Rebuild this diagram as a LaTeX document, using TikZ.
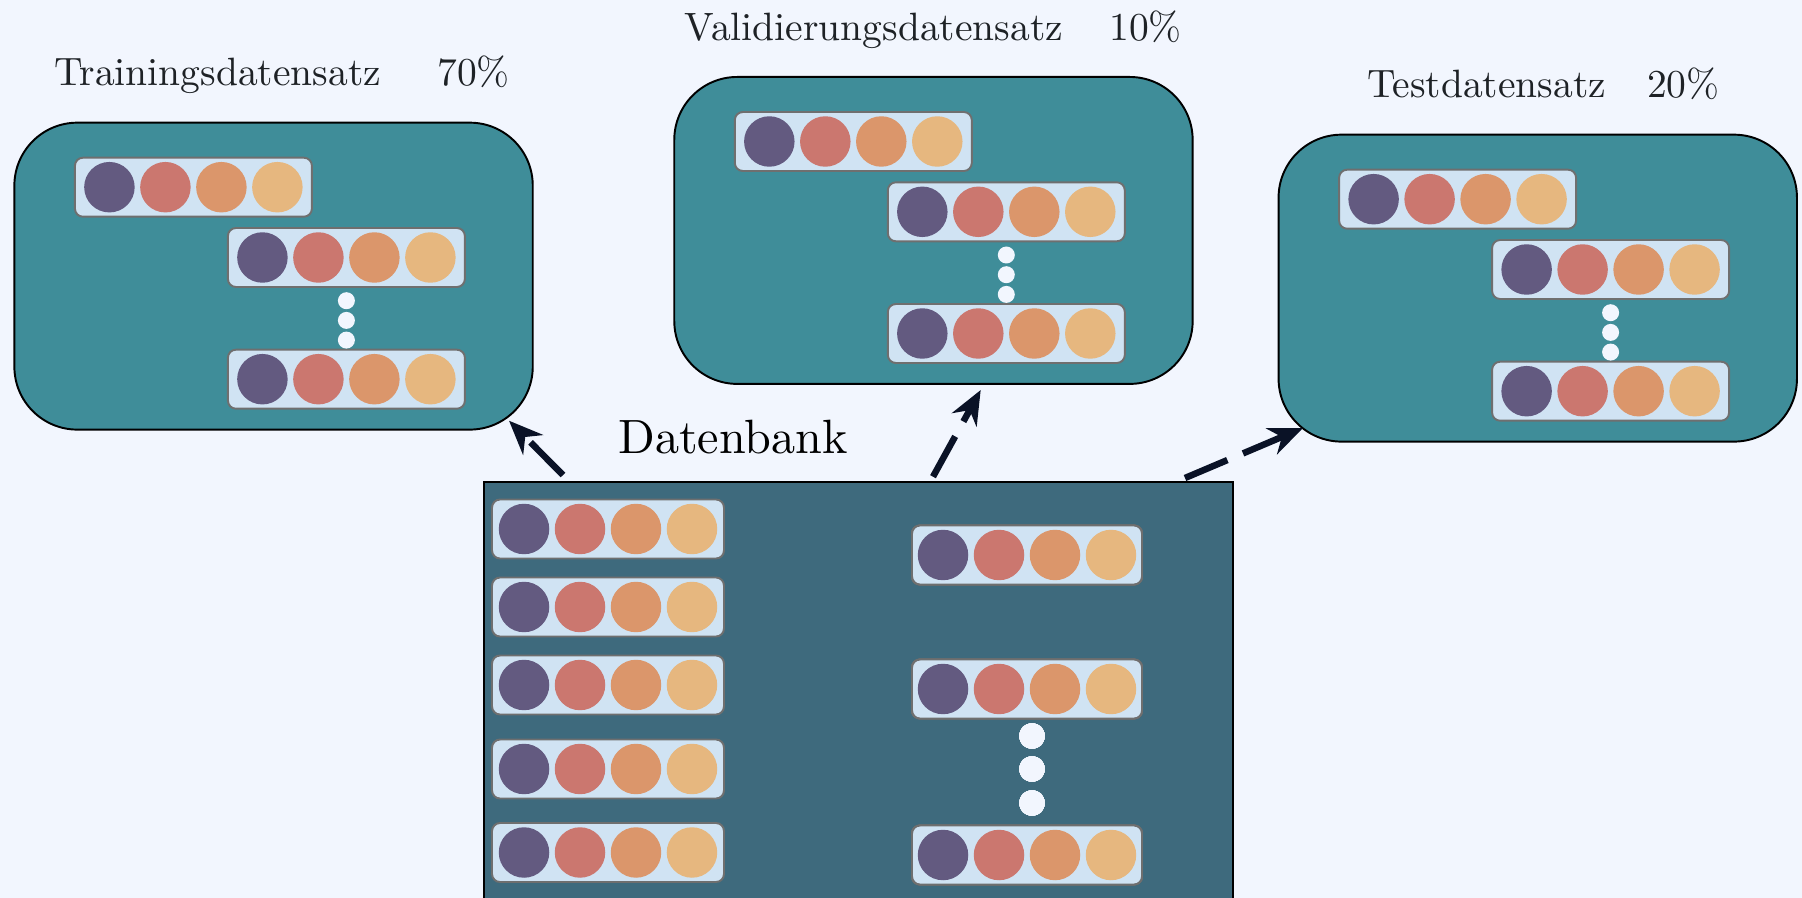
\documentclass[tikz,border=0pt]{standalone}
\usepackage{fontspec}
\newfontfamily\lmten{lmroman10-regular.otf}
\usetikzlibrary{arrows.meta}

\definecolor{bg}{HTML}{F2F6FE}
\definecolor{setfill}{HTML}{3F8D99}
\definecolor{dbfill}{HTML}{3E6A7D}
\definecolor{rowfill}{HTML}{D0E3F3}
\definecolor{rowline}{HTML}{6F6F6F}
\definecolor{ballA}{HTML}{635A80}
\definecolor{ballB}{HTML}{CB776F}
\definecolor{ballC}{HTML}{DB966B}
\definecolor{ballD}{HTML}{E6B77F}
\definecolor{arrowcol}{HTML}{0A1226}
\definecolor{textcol}{HTML}{1E2226}

\tikzset{
  setbox/.style={draw=black, line width=1.1pt, fill=setfill, rounded corners=1.26cm,
                 minimum width=10.37cm, minimum height=6.14cm, inner sep=0pt},
  dbbox/.style={draw=black, line width=1.1pt, fill=dbfill,
                minimum width=14.98cm, minimum height=8.4cm, inner sep=0pt},
  rowbox/.style={draw=rowline, line width=1.1pt, fill=rowfill, rounded corners=0.16cm,
                 minimum height=1.18cm, inner sep=0pt},
  ball/.style={circle, fill=#1, minimum size=1.01cm, inner sep=0pt},
  smalldot/.style={circle, fill=bg, minimum size=0.34cm, inner sep=0pt},
  bigdot/.style={circle, fill=bg, minimum size=0.51cm, inner sep=0pt},
  titletext/.style={text=textcol, inner sep=0pt, font=\lmten\fontsize{22.5}{27}\selectfont},
  dbtext/.style={text=black, inner sep=0pt, font=\lmten\fontsize{27.4}{33}\selectfont},
  flow/.style={draw=arrowcol, line width=3.7pt, dash pattern=on 0.92cm off 0.34cm,
               -{Stealth[length=0.68cm, width=0.56cm]}}
}

% one record: name, position, width
\newcommand{\datarow}[3]{%
  \node[rowbox, minimum width=#3] (#1) at #2 {};
  \foreach \c [count=\i] in {ballA,ballB,ballC,ballD}
    \node[ball=\c, xshift={1.12cm*\i-2.8cm}] (#1-\i) at (#1) {};
}

\begin{document}
\begin{tikzpicture}[x=0.02cm, y=-0.02cm]
  \useasboundingbox (0,0) rectangle (1802,898);
  \fill[bg] (0,0) rectangle (1802,898);

  % the three data sets
  \foreach \name/\bx/\by/\title/\tx/\pct/\px in {
      train/13.4/121.7/Trainingsdatensatz/40.6/70/423.6,
      val/673.3/76/Validierungsdatensatz/11.1/10/435.7,
      test/1277.6/133.7/Testdatensatz/89.4/20/369.2}
  {
    \node[setbox, anchor=north west] (\name) at (\bx,\by) {};
    \node[titletext, anchor=base west] (\name-title) at ([shift={(\tx,-35.7)}]\name.north west) {\title};
    \node[titletext, anchor=base west] (\name-pct) at ([shift={(\px,-35.7)}]\name.north west) {\pct\%};
    \datarow{\name-r1}{([shift={(180,65.5)}]\name.north west)}{4.74cm}
    \datarow{\name-r2}{([shift={(333,135.8)}]\name.north west)}{4.74cm}
    \datarow{\name-r3}{([shift={(333,257.5)}]\name.north west)}{4.74cm}
    \foreach \k in {0,1,2}
      \node[smalldot] (\name-dot\k) at ([shift={(333,179+19.7*\k)}]\name.north west) {};
  }

  % the data base
  \node[dbbox, anchor=north west] (db) at (483,480.7) {};
  \node[dbtext, anchor=base] (db-title) at (733,454) {Datenbank};
  \foreach \y [count=\j] in {529,607,685,769,852.5}
    \datarow{db-l\j}{(608,\y)}{4.64cm}
  \foreach \y [count=\j] in {555,689,855}
    \datarow{db-r\j}{(1027,\y)}{4.6cm}
  \foreach \y [count=\j] in {736,769,803}
    \node[bigdot] (db-dot\j) at (1032,\y) {};

  % splits
  \coordinate (s1) at (563,475);   \coordinate (e1) at (509,420.7);
  \coordinate (s2) at (933,476.7); \coordinate (e2) at (980.7,390);
  \coordinate (s3) at (1185,478);  \coordinate (e3) at (1303,428);
  \draw[flow] (s1) -- (e1);
  \draw[flow] (s2) -- (e2);
  \draw[flow] (s3) -- (e3);
\end{tikzpicture}
\end{document}
